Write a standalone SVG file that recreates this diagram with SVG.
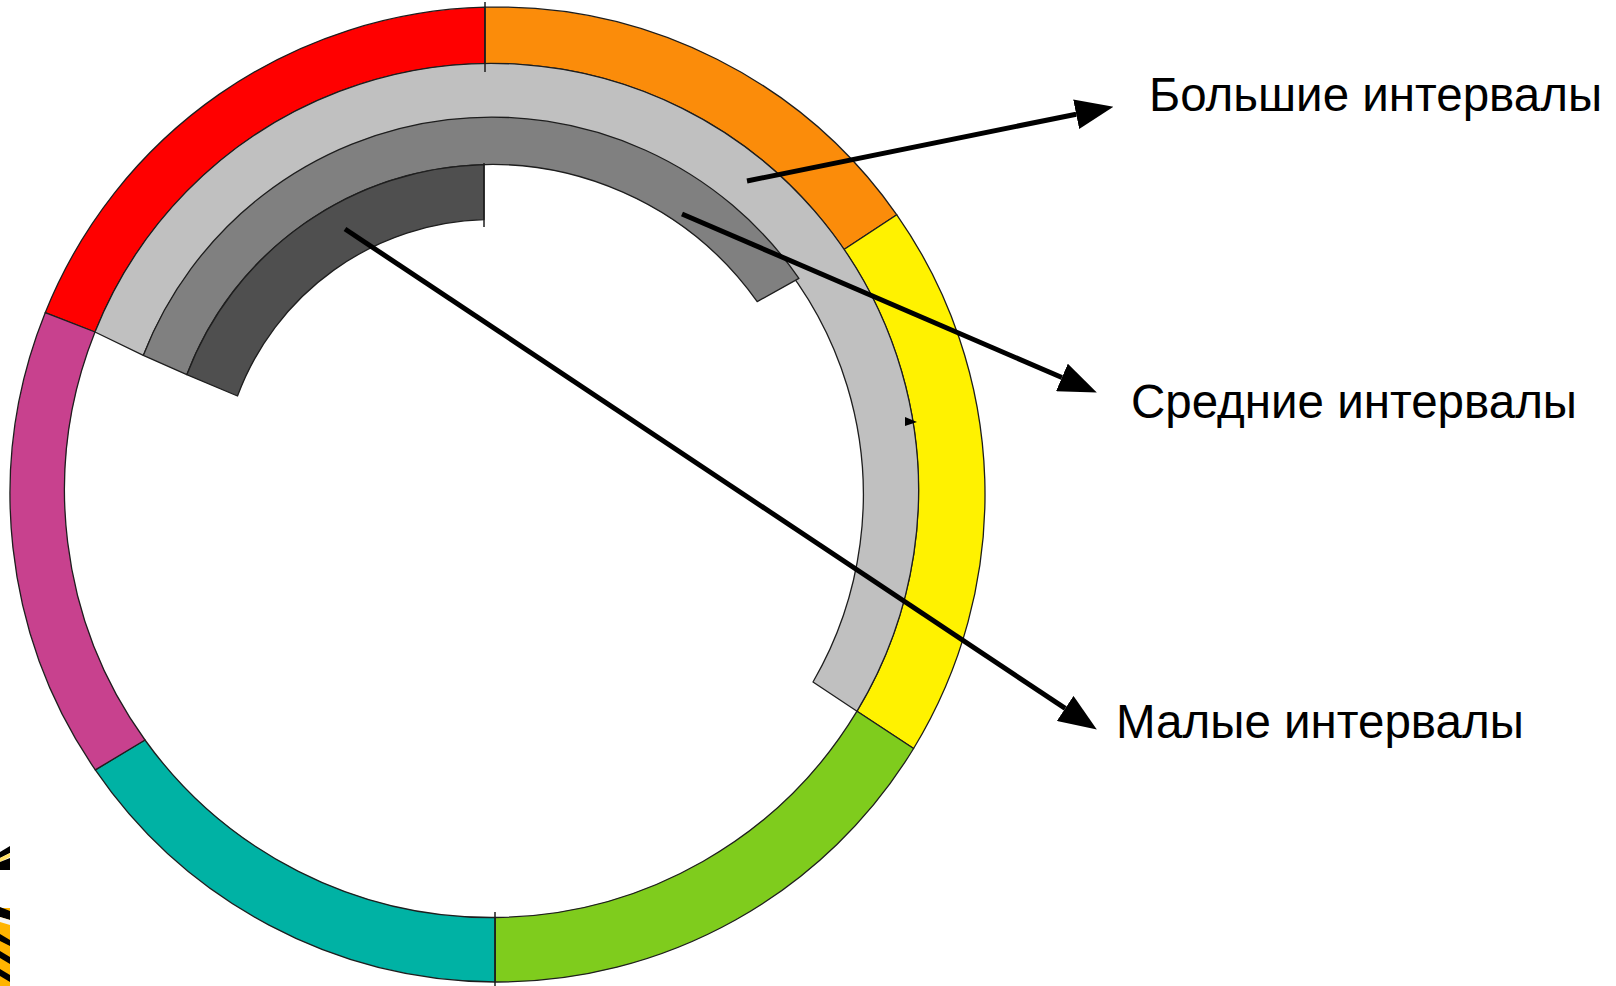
<svg xmlns="http://www.w3.org/2000/svg" width="1616" height="986" viewBox="0 0 1616 986">
<style>
.seg{stroke:#1e1e1e;stroke-width:1.3;stroke-linejoin:round}
.lbl{font-family:"Liberation Sans",Arial,sans-serif;font-size:47.5px;fill:#000}
.conn{stroke:#000;stroke-width:5;fill:none}
.tick{stroke:#1e1e1e;stroke-width:1.5}
</style>
<defs>
<marker id="arr" viewBox="0 0 38 30" refX="0" refY="15" markerWidth="38" markerHeight="30" markerUnits="userSpaceOnUse" orient="auto">
<path d="M0,0 L38,15 L0,30 Z" fill="#000"/>
</marker>
</defs>
<rect width="1616" height="986" fill="#fff"/>

<g id="ring-red"><path class="seg" fill="#FF0000" d="M45.2,312.7 A487.5,487.5 0 0 1 485,7.2 L485,63.6 A427,427 0 0 0 95,332 Z"/></g>
<g id="ring-orange"><path class="seg" fill="#FB8C0A" d="M485,7.2 A487.5,487.5 0 0 1 896.8,214.8 L844,249.5 A427,427 0 0 0 485,63.6 Z"/></g>
<g id="ring-yellow"><path class="seg" fill="#FFF200" d="M896.8,214.8 A487.5,487.5 0 0 1 913.6,748.5 L857,711.2 A427,427 0 0 0 844,249.5 Z"/></g>
<g id="ring-green"><path class="seg" fill="#7FCC1D" d="M913.6,748.5 A487.5,487.5 0 0 1 495,982 L495,917.5 A427,427 0 0 0 857,711.2 Z"/></g>
<g id="ring-teal"><path class="seg" fill="#00B2A4" d="M495,982 A487.5,487.5 0 0 1 95.3,769.9 L145,740 A427,427 0 0 0 495,917.5 Z"/></g>
<g id="ring-magenta"><path class="seg" fill="#C8418E" d="M95.3,769.9 A487.5,487.5 0 0 1 45.2,312.7 L95,332 A427,427 0 0 0 145,740 Z"/></g>

<g id="interval-large"><path class="seg" fill="#C0C0C0" d="M95,332 A427,427 0 1 1 857,711.2 L813,682 A373.5,373.5 0 1 0 143.3,355.4 Z"/></g>
<g id="interval-medium"><path class="seg" fill="#808080" d="M143.3,355.4 A373.5,373.5 0 0 1 798.9,278.4 L757.2,301.6 A326,326 0 0 0 186.8,374.7 Z"/></g>
<g id="interval-small"><path class="seg" fill="#4F4F4F" d="M186.8,374.7 A326,326 0 0 1 484,164.6 L484,219.6 A271,271 0 0 0 237.5,396 Z"/></g>

<g id="ticks">
<line class="tick" x1="485" y1="2" x2="485" y2="72"/>
<line class="tick" x1="484" y1="163" x2="484" y2="227"/>
<line class="tick" x1="495" y1="912" x2="495" y2="986"/>
<path d="M905,417 L917,422 L905,426 Z" fill="#000"/>
</g>

<g id="corner-artifact">
<polygon points="0,852 10,846 10,853 0,858" fill="#000"/>
<polygon points="0,858 10,853 10,857 0,862" fill="#FFE066"/>
<polygon points="0,862 10,858 10,870 0,870" fill="#000"/>
<rect x="0" y="908" width="10" height="78" fill="#FFB400"/>
<polygon points="0,907 10,911 10,920 0,917" fill="#000"/>
<polygon points="0,917 10,920 10,925 0,922" fill="#F4F4F4"/>
<polygon points="0,934 10,940 10,946 0,941" fill="#000"/>
<polygon points="0,951 10,957 10,964 0,958" fill="#000"/>
<polygon points="0,969 10,975 10,982 0,976" fill="#000"/>
</g>

<g id="connectors">
<line class="conn" x1="747" y1="181" x2="1076.2" y2="114.2" marker-end="url(#arr)"/>
<line class="conn" x1="682" y1="214" x2="1061.9" y2="377.5" marker-end="url(#arr)"/>
<line class="conn" x1="345" y1="229" x2="1065.2" y2="708.4" marker-end="url(#arr)"/>
</g>

<g id="label-large"><text class="lbl" x="1149" y="110.5">Большие интервалы</text></g>
<g id="label-medium"><text class="lbl" x="1131" y="417.5">Средние интервалы</text></g>
<g id="label-small"><text class="lbl" x="1116" y="737.5">Малые интервалы</text></g>
</svg>
